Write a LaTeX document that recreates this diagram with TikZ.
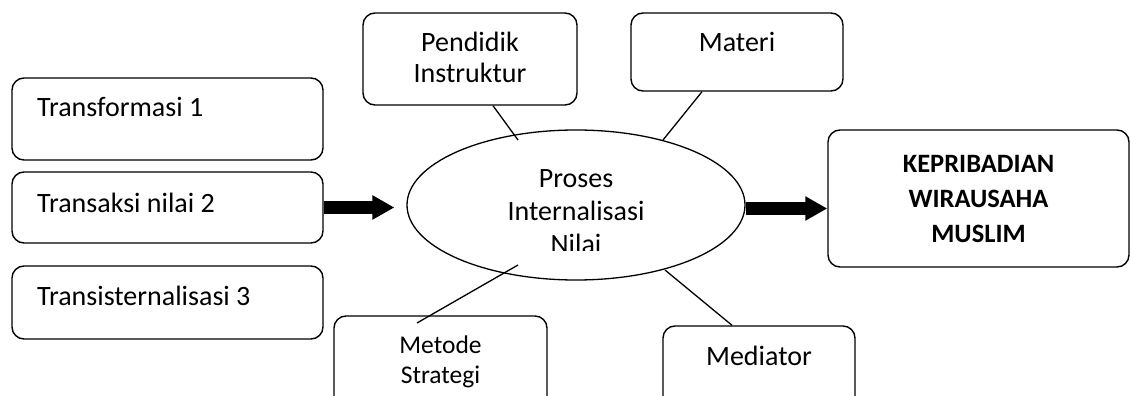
\documentclass[tikz,border=0pt]{standalone}
\usepackage{fontspec}
\setmainfont{Carlito}
\usetikzlibrary{arrows.meta,shapes.geometric}
\begin{document}
\begin{tikzpicture}[x=1pt,y=-1pt,
  box/.style={draw,line width=1.4pt,rounded corners=12pt,inner sep=0pt},
  oval/.style={draw,ellipse,line width=1.3pt,inner sep=0pt},
  txt/.style={inner sep=0pt,anchor=base,font=\fontsize{28}{33}\selectfont},
  ltxt/.style={txt,anchor=base west},
  stxt/.style={txt,font=\fontsize{25.5}{30}\selectfont},
  btxt/.style={txt,font=\fontsize{26.5}{35}\selectfont\bfseries},
  link/.style={line width=1.3pt},
  bigarrow/.style={line width=12.5pt,-{Triangle[length=22pt,width=23pt]}}
]
\clip (0,0) rectangle (1130,396);
\fill[white] (0,0) rectangle (1130,396);

% boxes
\node[box,minimum width=311pt,minimum height=82pt] (trf) at (167.5,119) {};
\node[box,minimum width=311pt,minimum height=71pt] (trs) at (167.5,207.5) {};
\node[box,minimum width=311pt,minimum height=73pt] (tri) at (167.5,302.5) {};
\node[box,minimum width=214pt,minimum height=92pt] (pend) at (470,59) {};
\node[box,minimum width=212pt,minimum height=78pt] (mat) at (737,52) {};
\node[box,minimum width=213pt,minimum height=104pt] (met) at (440.5,368) {};
\node[box,minimum width=192pt,minimum height=94pt] (med) at (759,373) {};
\node[box,minimum width=301pt,minimum height=137pt] (kep) at (978.5,198.5) {};
\node[oval,minimum width=338pt,minimum height=150pt] (ell) at (576,205) {};

% texts
\node[ltxt] (t1) at (37,117) {Transformasi 1};
\node[ltxt] (t2) at (37,212) {Transaksi nilai 2};
\node[ltxt] (t3) at (37,305) {Transisternalisasi 3};
\node[txt] (p1) at (470,52) {Pendidik};
\node[txt] (p2) at (470,83) {Instruktur};
\node[txt] (m1) at (737,52) {Materi};
\node[stxt] (s1) at (440.5,353) {Metode};
\node[stxt] (s2) at (440.5,383) {Strategi};
\node[txt] (d1) at (759,365) {Mediator};
\node[btxt] (k1) at (978.5,172) {KEPRIBADIAN};
\node[btxt] (k2) at (978.5,207) {WIRAUSAHA};
\node[btxt] (k3) at (978.5,242) {MUSLIM};
\node[txt] (e1) at (576,187) {Proses};
\node[txt] (e2) at (576,220) {Internalisasi};
\begin{scope}
  \clip (400,150) rectangle (750,250);
  \node[txt] (e3) at (576,253) {Nilai};
\end{scope}

% connectors
\coordinate (c1) at (518,140);
\coordinate (c2) at (663,140);
\coordinate (c3) at (518,265);
\coordinate (c3b) at (417,323);
\coordinate (c4) at (665,270);
\draw[link] ([xshift=23pt]pend.south) -- (c1);
\draw[link] ([xshift=-35pt]mat.south) -- (c2);
\draw[link] (c3b) -- (c3);
\draw[link] ([xshift=-27pt]med.north) -- (c4);

% arrows
\draw[bigarrow] (trs.east) -- ([xshift=-12pt]trs.east -| ell.west);
\coordinate (kw) at ([yshift=-10pt]kep.west);
\draw[bigarrow] (ell.east |- kw) -- (kw);
\end{tikzpicture}
\end{document}
